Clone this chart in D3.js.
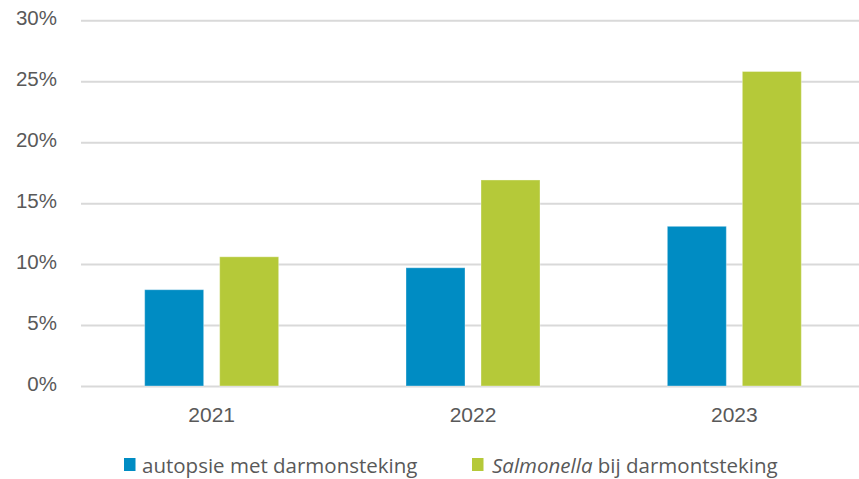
<!DOCTYPE html>
<html>
<head>
<meta charset="utf-8">
<script src="https://cdn.jsdelivr.net/npm/d3@7"></script>
<style>
  html, body { margin: 0; padding: 0; background: #fff; }
  svg { display: block; }
</style>
</head>
<body>
<div id="chart"></div>
<script>
const years = ['2021', '2022', '2023'];
const series = ['autopsie', 'salmonella'];
const autopsieValues = [0.079, 0.097, 0.131];
const salmonellaValues = [0.106, 0.169, 0.258];
const yTicks = [0, 0.05, 0.10, 0.15, 0.20, 0.25, 0.30];

const colors = { autopsie: '#008CC3', salmonella: '#B5C939' };

// set the dimensions of the graph
const W = 859, H = 479;
const margin = { top: 20.3, left: 81 };
const plotRight = 865, plotBottom = 386;

const data = years.map((y, i) => ({
  year: y,
  autopsie: autopsieValues[i],
  salmonella: salmonellaValues[i],
}));

const svg = d3
  .select('#chart')
  .append('svg')
  .attr('width', W)
  .attr('height', H);

const x = d3.scaleBand().domain(years).range([margin.left, plotRight]).padding(0);
const xInner = d3
  .scaleBand()
  .domain(series)
  .range([0, x.bandwidth()])
  .paddingInner(0.2133)
  .paddingOuter(0.849);
const y = d3.scaleLinear().domain([0, 0.3]).range([plotBottom, margin.top]);

// gridlines + y labels
const yAxis = d3
  .axisLeft(y)
  .tickValues(yTicks)
  .tickFormat(d3.format('.0%'))
  .tickSize(-(W - margin.left))
  .tickPadding(24);

const gy = svg
  .append('g')
  .attr('transform', `translate(${margin.left},0)`)
  .call(yAxis);
gy.select('.domain').remove();
gy.selectAll('.tick line').attr('stroke', '#D9D9D9').attr('stroke-width', 2);
gy.selectAll('.tick text')
  .attr('fill', '#595959')
  .attr('font-family', 'Liberation Sans, Arial, sans-serif')
  .attr('font-size', 20.5)
  .attr('dy', '0.2em');

// Bars
const groups = svg
  .selectAll('g.year')
  .data(data)
  .join('g')
  .attr('class', 'year')
  .attr('transform', (d) => `translate(${x(d.year)},0)`);

groups
  .selectAll('rect')
  .data((d) => series.map((s) => ({ key: s, value: d[s] })))
  .join('rect')
  .attr('x', (d) => xInner(d.key))
  .attr('width', xInner.bandwidth())
  .attr('y', (d) => y(d.value))
  .attr('height', (d) => y(0) - y(d.value))
  .attr('fill', (d) => colors[d.key])
  .attr('stroke', '#ffffff')
  .attr('stroke-opacity', 0.35)
  .attr('stroke-width', 1);

// X axis labels
const xAxis = d3.axisBottom(x).tickSize(0).tickPadding(0);
const gx = svg
  .append('g')
  .attr('transform', `translate(0,${plotBottom})`)
  .call(xAxis);
gx.select('.domain').remove();
gx.selectAll('.tick text')
  .attr('fill', '#595959')
  .attr('font-family', 'Liberation Sans, Arial, sans-serif')
  .attr('font-size', 21)
  .attr('dy', null)
  .attr('y', 35.5);

// Legend
const legend = svg.append('g').attr('font-family', 'Open Sans, Noto Sans, sans-serif').attr('fill', '#595959');

const legendItems = [
  { key: 'autopsie', x: 124 },
  { key: 'salmonella', x: 472 },
];

legend
  .selectAll('rect')
  .data(legendItems)
  .join('rect')
  .attr('x', (d) => d.x)
  .attr('y', 458)
  .attr('width', 11.5)
  .attr('height', 13)
  .attr('fill', (d) => colors[d.key]);

legend
  .append('text')
  .attr('x', 142)
  .attr('y', 472.5)
  .attr('font-size', 20.5)
  .text('autopsie met darmonsteking');

const t2 = legend.append('text').attr('x', 492).attr('y', 472.5).attr('font-size', 20.5);
t2.append('tspan').attr('font-style', 'italic').text('Salmonella');
t2.append('tspan').text(' bij darmontsteking');
</script>
</body>
</html>
